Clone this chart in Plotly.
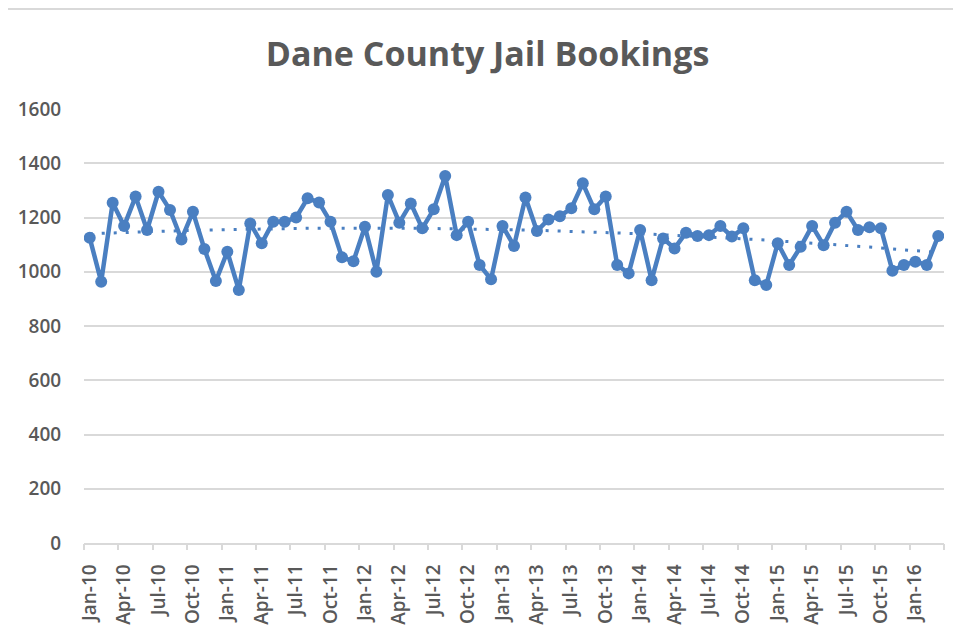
import numpy as np
import pandas as pd
import plotly.graph_objects as go

# Monthly bookings, Jan-2010 .. Mar-2016
months = list(pd.date_range("2010-01-01", periods=75, freq="MS").strftime("%b-%y"))
bookings = [
    1125, 963, 1254, 1169, 1277, 1154, 1295, 1228, 1119, 1221, 1084, 966,
    1074, 933, 1178, 1105, 1184, 1184, 1200, 1271, 1255, 1184, 1053, 1039,
    1166, 1000, 1283, 1181, 1252, 1160, 1230, 1353, 1135, 1184, 1025, 972,
    1169, 1095, 1274, 1150, 1193, 1205, 1234, 1326, 1230, 1277, 1025, 994,
    1154, 969, 1123, 1086, 1144, 1132, 1135, 1169, 1130, 1160, 969, 951,
    1105, 1025, 1092, 1169, 1098, 1181, 1221, 1154, 1164, 1160, 1004, 1025,
    1037, 1025, 1132,
]
y_ticks = [0, 200, 400, 600, 800, 1000, 1200, 1400, 1600]

idx = np.arange(len(bookings))
# polynomial (order 2) trendline, as in the spreadsheet chart
coef = np.polyfit(idx, bookings, 2)
trend = np.polyval(coef, idx)

blue = "#4a7fc1"
grey_txt = "#595959"
grid = "#d9d9d9"
font_fam = "Open Sans"

fig = go.Figure()
fig.add_trace(go.Scatter(
    x=idx, y=bookings, mode="lines+markers",
    line=dict(color=blue, width=4.5),
    marker=dict(color=blue, size=12),
    showlegend=False, hoverinfo="x+y",
))
fig.add_trace(go.Scatter(
    x=idx, y=trend, mode="lines", xaxis="x2",
    line=dict(color=blue, width=3, dash="3px,9px"),
    showlegend=False, hoverinfo="skip",
))

label_pos = list(range(0, len(months), 3))
boundary_pos = [i - 0.5 for i in range(0, len(months) + 1, 3)]
xr = [-0.5, len(months) - 0.5]

top_line_y = 1 + 100 / 434

fig.update_layout(
    width=961, height=637,
    paper_bgcolor="white", plot_bgcolor="white",
    margin=dict(l=76, r=25, t=101, b=102),
    title=dict(text="<b>Dane County Jail Bookings</b>", x=0.499, xref="container",
               xanchor="center", y=1 - 46 / 637, yref="container", yanchor="middle",
               font=dict(family=font_fam, size=34, color=grey_txt)),
    xaxis=dict(
        range=xr, tickmode="array", tickvals=label_pos,
        ticktext=[months[i] for i in label_pos], tickangle=-90,
        ticks="outside", ticklen=12, tickcolor="rgba(0,0,0,0)",
        showgrid=False, zeroline=False, automargin=False,
        showline=True, linecolor=grid, linewidth=1.5,
        tickfont=dict(family=font_fam, size=19, color=grey_txt, weight=600),
    ),
    xaxis2=dict(
        range=xr, overlaying="x", anchor="y", side="bottom",
        tickmode="array", tickvals=boundary_pos, showticklabels=False,
        ticks="outside", ticklen=6, tickcolor=grid, tickwidth=1.5,
        showgrid=False, zeroline=False, showline=False, automargin=False,
    ),
    yaxis=dict(
        range=[0, 1600], tickmode="array", tickvals=y_ticks,
        showgrid=True, gridcolor=grid, gridwidth=1.5, zeroline=False,
        showline=False, ticks="outside", ticklen=18, tickcolor="rgba(0,0,0,0)",
        automargin=False,
        tickfont=dict(family=font_fam, size=19, color=grey_txt, weight=600),
    ),
    shapes=[dict(type="line", xref="paper", yref="paper",
                 x0=-0.2, x1=1.2, y0=top_line_y, y1=top_line_y,
                 line=dict(color=grid, width=2))],
)

fig.write_html("out.html")
